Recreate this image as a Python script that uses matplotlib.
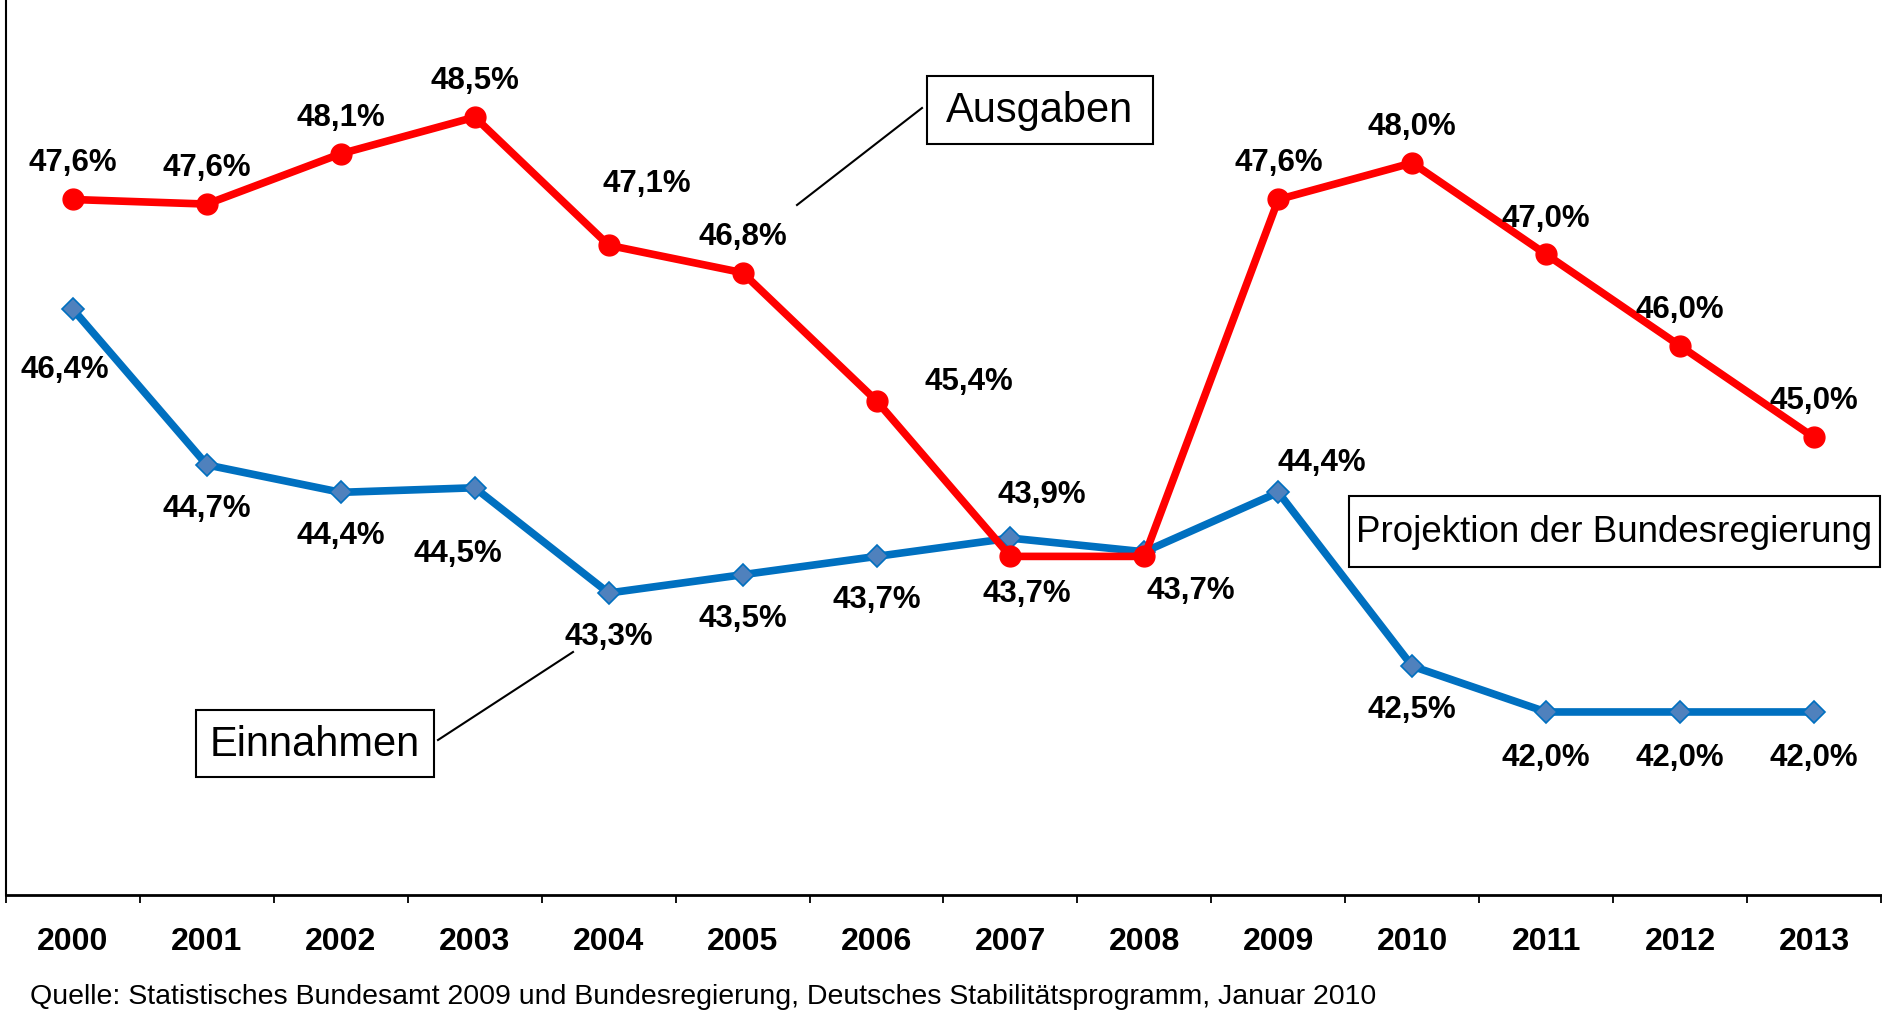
import matplotlib
matplotlib.use("Agg")
import matplotlib.pyplot as plt
from matplotlib.patches import Rectangle
from matplotlib.lines import Line2D

plt.rcParams['font.family'] = ['Liberation Sans', 'DejaVu Sans']

# ---------------- data ----------------
years = ['2000', '2001', '2002', '2003', '2004', '2005', '2006',
         '2007', '2008', '2009', '2010', '2011', '2012', '2013']
ausgaben = [47.6, 47.55, 48.1, 48.5, 47.1, 46.8, 45.4,
            43.7, 43.7, 47.6, 48.0, 47.0, 46.0, 45.0]
ausgaben_labels = ['47,6%', '47,6%', '48,1%', '48,5%', '47,1%', '46,8%', '45,4%',
                   '43,7%', '43,7%', '47,6%', '48,0%', '47,0%', '46,0%', '45,0%']
einnahmen = [46.4, 44.7, 44.4, 44.45, 43.3, 43.5, 43.7,
             43.9, 43.75, 44.4, 42.5, 42.0, 42.0, 42.0]
einnahmen_labels = ['46,4%', '44,7%', '44,4%', '44,5%', '43,3%', '43,5%', '43,7%',
                    '43,9%', '', '44,4%', '42,5%', '42,0%', '42,0%', '42,0%']
source = ("Quelle: Statistisches Bundesamt 2009 und Bundesregierung, "
          "Deutsches Stabilitätsprogramm, Januar 2010")

# label offsets (pixels) – styling only
red_off = [(0, 36), (0, 36), (0, 36), (0, 36), (38, 61), (0, 36), (92, 19),
           (16, -38), (46, -35), (0, 36), (0, 36), (0, 35), (0, 36), (0, 36)]
blue_off = [(-8, -61), (0, -44), (0, -44), (-17, -66), (0, -44), (0, -44), (0, -44),
            (31, 43), (0, 0), (43, 29), (0, -44), (0, -46), (0, -46), (0, -46)]

W, H = 1883, 1018
fig = plt.figure(figsize=(W / 100, H / 100), dpi=100)
ax = fig.add_axes([6 / W, (H - 895) / H, (1881 - 6) / W, 895 / H])

x = list(range(len(years)))
RED = '#FF0000'
BLUE = '#0070C0'
ax.plot(x, ausgaben, color=RED, lw=5.5, marker='o', markersize=15,
        markerfacecolor=RED, markeredgecolor=RED, zorder=4, solid_capstyle='round')
ax.plot(x, einnahmen, color=BLUE, lw=5.5, marker='D', markersize=11.5,
        markerfacecolor='#4F81BD', markeredgecolor=BLUE, markeredgewidth=1.2, zorder=3)

for i, (v, lab) in enumerate(zip(ausgaben, ausgaben_labels)):
    ax.annotate(lab, (i, v), xytext=red_off[i], textcoords='offset pixels',
                ha='center', va='center', fontsize=22.5, fontweight='bold', zorder=6)
for i, (v, lab) in enumerate(zip(einnahmen, einnahmen_labels)):
    if lab:
        ax.annotate(lab, (i, v), xytext=blue_off[i], textcoords='offset pixels',
                    ha='center', va='center', fontsize=22.5, fontweight='bold', zorder=6)

ax.set_xlim(-0.5, len(years) - 0.5)
ax.set_ylim(40, 49.78)
ax.set_yticks([])
ax.set_xticks(x)
ax.set_xticklabels(years, fontsize=23, fontweight='bold')
ax.set_xticks([i - 0.5 for i in range(len(years) + 1)], minor=True)
ax.tick_params(axis='x', which='major', length=0, pad=23)
ax.tick_params(axis='x', which='minor', length=6, width=1.3, direction='out')
for s in ['top', 'right']:
    ax.spines[s].set_visible(False)
ax.spines['left'].set_linewidth(1.5)
ax.spines['bottom'].set_linewidth(2)

# overlay in image pixel coordinates for annotation boxes
ov = fig.add_axes([0, 0, 1, 1], zorder=10)
ov.set_xlim(0, W)
ov.set_ylim(H, 0)
ov.axis('off')
ov.patch.set_alpha(0)

def box(x0, x1, y0, y1, text, fs):
    ov.add_patch(Rectangle((x0, y0), x1 - x0, y1 - y0, fill=True, fc='white',
                           ec='black', lw=1.5))
    ov.text((x0 + x1) / 2, (y0 + y1) / 2 + 1, text, ha='center', va='center',
            fontsize=fs)

box(927, 1153, 76, 144, 'Ausgaben', 30)
box(196, 434, 710, 777, 'Einnahmen', 30)
box(1349, 1880, 496, 567, 'Projektion der Bundesregierung', 26.5)
ov.add_line(Line2D([797, 922], [205, 108], color='black', lw=1.5))
ov.add_line(Line2D([438, 573], [740, 652], color='black', lw=1.5))

ov.text(30, 997, source, ha='left', va='center', fontsize=20.5)

fig.savefig('out.png', dpi=100)
